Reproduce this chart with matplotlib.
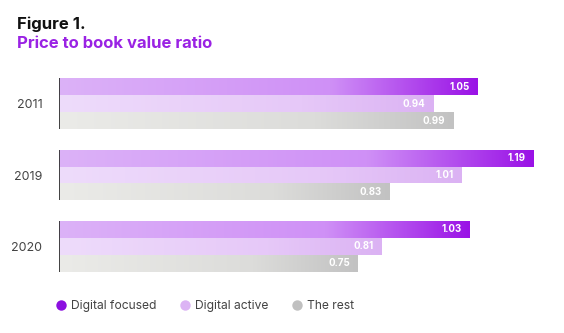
import numpy as np
import matplotlib.pyplot as plt
from matplotlib.colors import LinearSegmentedColormap
from matplotlib.lines import Line2D

plt.rcParams['font.family'] = ['Inter', 'DejaVu Sans']

years = ['2011', '2019', '2020']
series = ['Digital focused', 'Digital active', 'The rest']
digital_focused = [1.05, 1.19, 1.03]
digital_active = [0.94, 1.01, 0.81]
the_rest = [0.99, 0.83, 0.75]

# left (faded) and right (solid) end of each bar's gradient
grad_left = ['#dcb2f8', '#eedcfb', '#ebebe8']
grad_mid = ['#cf90f6', '#e6c8f8', '#dcdcda']
grad_right = ['#9a12e6', '#dbb2f3', '#c2c2c2']
dot_colors = ['#8c10e0', '#dcb4f4', '#c0c0c0']

fig = plt.figure(figsize=(5.64, 3.33), dpi=100)
W, H = 564, 333
ax = fig.add_axes([59 / W, 1 - 280 / H, 500 / W, 210 / H])

bar_h = 17 / 71.5
ramp = np.linspace(0, 1, 256).reshape(1, -1)
y_centers = np.arange(len(years))

for i, vals in enumerate([digital_focused, digital_active, the_rest]):
    cmap = LinearSegmentedColormap.from_list(
        series[i], [(0, grad_left[i]), (0.65, grad_mid[i]), (1, grad_right[i])])
    ys = y_centers + (i - 1) * bar_h
    bars = ax.barh(ys, vals, height=bar_h, color='none', edgecolor='none')
    for bar, v in zip(bars, vals):
        x0, y0 = bar.get_x(), bar.get_y()
        w, h = bar.get_width(), bar.get_height()
        im = ax.imshow(ramp, cmap=cmap, aspect='auto', interpolation='bicubic',
                       extent=(x0, x0 + w, y0 + h, y0), zorder=2)
        im.set_clip_path(bar)
        ax.text(x0 + w - 0.02, y0 + h / 2, f'{v:.2f}', ha='right', va='center',
                color='white', fontsize=7, fontweight='bold', zorder=3)

# short axis line beside each year group
for yc in y_centers:
    ax.plot([0, 0], [yc - 1.5 * bar_h, yc + 1.5 * bar_h], color='#333333', lw=1.3,
            zorder=4, solid_capstyle='butt')

ax.set_xlim(0, 1.255)
ax.set_ylim(2.469, -0.469)
ax.set_yticks(y_centers)
ax.set_yticklabels(years, fontsize=9, color='#444444')
ax.tick_params(axis='y', length=0, pad=12)
ax.set_xticks([])
for s in ax.spines.values():
    s.set_visible(False)

fig.text(17 / W, 1 - 29 / H, 'Figure 1.', fontsize=12, fontweight='bold', color='#111111')
fig.text(17 / W, 1 - 48 / H, 'Price to book value ratio', fontsize=12, fontweight='bold',
         color='#9a22e4')

handles = [Line2D([], [], marker='o', ls='none', markersize=7.5, markerfacecolor=c,
                  markeredgecolor='none') for c in dot_colors]
fig.legend(handles, series, loc='center left', bbox_to_anchor=(44 / W, 1 - 306 / H),
           ncol=3, frameon=False, fontsize=8.7, handletextpad=0.3, columnspacing=1.9,
           handlelength=1.0, labelcolor='#444444')

fig.savefig('out.png', dpi=100)
